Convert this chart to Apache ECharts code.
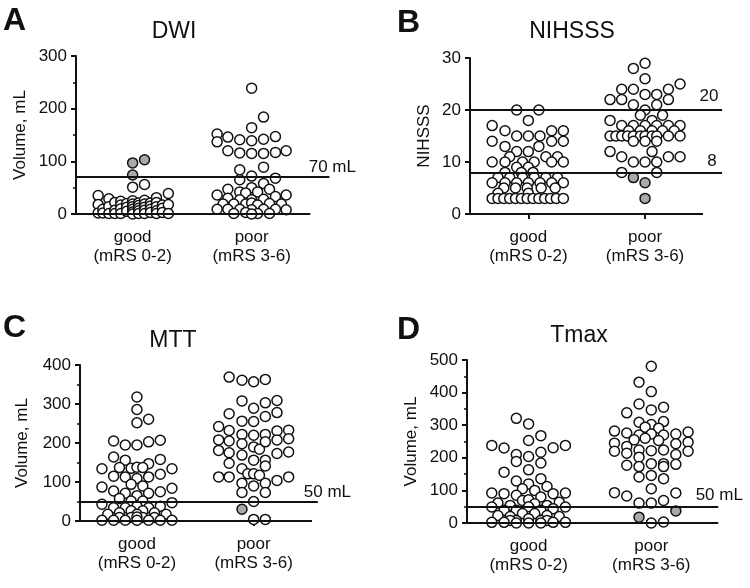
<!DOCTYPE html>
<html><head><meta charset="utf-8">
<script src="https://cdn.jsdelivr.net/npm/echarts@6/dist/echarts.min.js"></script>
<style>html,body{margin:0;padding:0;background:#fff}#c{width:750px;height:588px}</style>
</head><body><div id="c"></div>
<script>
// ---------- data ----------
const categoryLabels = ['good\n(mRS 0-2)', 'poor\n(mRS 3-6)'];
const panelTitles = ['DWI', 'NIHSSS', 'MTT', 'Tmax'];
const panelLetters = ['A', 'B', 'C', 'D'];
const yNames = ['Volume, mL', 'NIHSSS', 'Volume, mL', 'Volume, mL'];
const yMax = [300, 30, 400, 500];
const yStep = [100, 10, 100, 100];
const refValues = [[70], [20, 8], [50], [50]];
const refLabels = [['70 mL'], ['20', '8'], ['50 mL'], ['50 mL']];

// each point: [swarm jitter (fraction of group spacing), value]
const dwiGood = [
  [-0.29,35],[-0.29,18],[-0.29,2],[-0.25,9],[-0.25,2],
  [-0.2,29],[-0.2,14],[-0.2,1],[-0.15,22],[-0.15,7],[-0.15,1],
  [-0.1,24],[-0.1,17],[-0.1,10],[-0.1,1],[-0.05,20],[-0.05,13],[-0.05,5],
  [0,25],[0,19],[0,14],[0,9],[0,4],[0,0],[0,51],
  [0.05,21],[0.05,16],[0.05,11],[0.05,6],[0.05,1],
  [0.1,26],[0.1,19],[0.1,13],[0.1,7],[0.1,1],[0.1,56],
  [0.15,21],[0.15,15],[0.15,9],[0.15,3],
  [0.2,31],[0.2,22],[0.2,14],[0.2,6],[0.2,1],
  [0.25,17],[0.25,11],[0.25,3],[0.3,39],[0.3,18],[0.3,1]
];
const dwiGoodGray = [[0,97],[0.1,103],[0,74]];
const dwiPoor = [
  [0,239],[0.1,184],[0,164],
  [-0.29,152],[-0.29,137],[-0.2,146],[-0.1,141],[0,139],[0.1,142],[0.2,147],
  [-0.2,120],[-0.1,116],[0,115],[0.1,115],[0.2,117],[0.29,120],
  [0.1,89],[-0.1,84],[0,72],[-0.1,65],[0.2,68],
  [0.1,58],[0,50],[-0.2,47],[0.15,47],[-0.1,42],
  [-0.29,36],[-0.05,40],[0.05,42],[0.29,36],
  [-0.2,30],[-0.1,27],[0,27],[0.1,28],[0.2,33],
  [-0.24,19],[-0.15,19],[-0.05,19],[0,21],[0.05,17],[0.15,20],[0.25,19],
  [-0.29,9],[-0.2,9],[-0.1,9],[0,8],[0.1,9],[0.2,9],[0.29,8],
  [-0.15,1],[-0.05,3],[0.05,1],[0.15,1],[0,0]
];
const dwiPoorGray = [];

const nihGood = [
  [-0.1,20],[0.09,20],[0,18],[-0.31,17],
  [-0.2,16],[0.2,16],[0.3,16],[-0.1,15],[0,15],[0.1,15],
  [-0.31,14],[0.2,14],[0.3,14],[-0.2,13],[0.09,13],[-0.1,12],[0,12],
  [-0.16,11],[0.15,11],[0.25,11],
  [-0.31,10],[-0.2,10],[-0.05,10],[0.05,10],[0.2,10],[0.3,10],
  [-0.1,9],[0,9],[-0.2,8],[-0.06,8],[0.04,8],
  [-0.26,7],[-0.16,7],[-0.05,7],[0.05,7],[0.15,7],[0.25,7],
  [-0.31,6],[-0.2,6],[-0.1,6],[0,6],[0.1,6],[0.2,6],[0.3,6],
  [-0.21,5],[-0.11,5],[-0.01,5],[0.11,5],[0.23,5],[-0.26,4],[0,4],
  [-0.31,3],[-0.26,3],[-0.21,3],[-0.16,3],[-0.11,3],[-0.06,3],[-0.01,3],
  [0.04,3],[0.09,3],[0.14,3],[0.19,3],[0.24,3],[0.3,3]
];
const nihGoodGray = [];
const nihPoor = [
  [0,29],[-0.1,28],[0,26],[0.3,25],[-0.2,24],[-0.1,24],[0.2,24],
  [0,23],[0.1,23],[-0.3,22],[-0.2,22],[0.2,22],[-0.1,21],[0.1,21],
  [0,20],[-0.04,19],[0.15,19],[-0.3,18],[0.06,18],
  [-0.2,17],[-0.1,17],[0,17],[0.1,17],[0.2,17],[0.3,17],
  [-0.14,16],[-0.04,16],[0.06,16],[0.15,16],[0.25,16],
  [-0.3,15],[-0.25,15],[-0.2,15],[-0.15,15],[-0.1,15],[-0.04,15],[0,15],[0.06,15],[0.1,15],[0.2,15],[0.3,15],
  [-0.1,14],[0,14],[0.1,14],[-0.3,12],[0.06,12],
  [-0.2,11],[0.2,11],[0.3,11],[-0.1,10],[0,10],[0.1,10],[-0.2,8],[0.1,8]
];
const nihPoorGray = [[-0.1,7],[0,6],[0,3]];

const mttGood = [
  [0,318],[0,286],[0,252],[0.1,261],
  [-0.2,205],[-0.1,195],[0,195],[0.1,203],[0.2,207],
  [-0.2,164],[-0.1,156],[0.2,158],[0.1,147],
  [-0.3,134],[-0.15,137],[-0.05,135],[0,138],[0.05,137],[0.3,134],
  [-0.2,115],[-0.1,113],[0,109],[0.1,113],[0.2,120],
  [-0.05,94],[0.05,90],[-0.3,87],[0.3,84],
  [-0.2,77],[-0.1,71],[0,65],[0.1,71],[0.2,75],
  [-0.15,58],[-0.05,51],[0.05,51],[-0.3,43],[0.3,47],
  [-0.2,34],[-0.1,34],[0,38],[0.1,34],[0.2,38],
  [-0.25,17],[-0.15,21],[-0.05,26],[0.05,26],[0.15,21],[0.25,17],[0,17],
  [-0.15,9],[-0.05,9],[0.05,9],[0.15,9],[0,10],
  [-0.3,2],[-0.2,2],[-0.1,2],[0,2],[0.1,2],[0.2,2],[0.3,2]
];
const mttGoodGray = [];
const mttPoor = [
  [-0.21,369],[-0.1,361],[0,357],[0.1,363],
  [-0.1,308],[0.1,303],[0.2,309],
  [-0.21,275],[0,289],[0.1,268],[0.2,278],[-0.1,256],[0,255],
  [-0.3,242],[-0.21,232],[-0.1,222],[0,220],[0.1,222],[0.2,231],[0.3,233],
  [-0.3,208],[-0.21,205],[-0.1,198],[0,190],[0.05,184],[0.1,203],[0.2,208],[0.3,211],
  [-0.3,181],[-0.21,175],[-0.1,169],[0,156],[0.1,156],[0.2,173],[0.3,177],
  [-0.21,148],[0.1,141],
  [-0.3,113],[-0.21,113],[-0.1,134],[-0.05,121],[0,121],[0.05,117],[0.2,104],[0.3,113],
  [-0.1,97],[0,90],[0.1,97],[-0.1,73],[0.1,73],[0,50],[0,4],[0.1,4]
];
const mttPoorGray = [[-0.1,30]];

const tmaxGood = [
  [-0.1,321],[0,304],[0,253],[0.1,268],
  [-0.3,238],[-0.2,230],[-0.1,210],[0,204],[0.1,217],[0.2,231],[0.3,238],
  [-0.1,189],[0.1,184],[-0.2,156],[0,163],
  [-0.1,129],[0.1,136],[0.15,112],[0,120],[-0.05,105],[0.05,100],
  [-0.3,92],[-0.2,90],[-0.1,85],[0.1,80],[0.2,90],[0.3,92],
  [-0.25,61],[-0.15,54],[-0.05,69],[0,71],[0.05,59],[0.15,54],[0.25,64],
  [-0.3,49],[0.3,49],[0,50],
  [-0.2,39],[-0.1,39],[0.1,39],[0.2,44],[-0.05,29],[0.05,29],
  [-0.25,23],[-0.15,20],[0.15,23],[0.25,20],
  [0,13],[-0.1,8],[0.1,8],[-0.15,8],[0.15,8],
  [-0.3,2],[-0.2,2],[-0.1,0],[0,0],[0.1,0],[0.2,2],[0.3,2]
];
const tmaxGoodGray = [];
const tmaxPoor = [
  [0,481],[-0.1,432],[0,403],
  [-0.1,365],[-0.2,338],[0,347],[0.1,355],
  [-0.1,309],[0,302],[0.1,311],[-0.05,294],[0.06,291],
  [-0.3,282],[-0.2,276],[-0.1,270],[0,273],[0.1,270],[0.2,273],[0.3,279],
  [-0.14,255],[-0.05,260],[0.06,253],
  [-0.3,245],[-0.2,235],[0.2,243],[0.3,248],
  [-0.3,220],[-0.2,214],[-0.1,224],[0,222],[0.1,224],[0.2,210],[0.3,220],
  [-0.1,202],[-0.2,177],[-0.1,173],[0,182],[0.1,182],[0.1,173],[0.2,180],
  [-0.1,141],[0,146],[0.1,136],[0,105],
  [-0.3,93],[-0.2,83],[0.2,92],[0.1,69],[-0.1,61],[0,61],
  [0,0],[0.1,3]
];
const tmaxPoorGray = [[-0.1,18],[0.2,37]];

const groups = [
  [dwiGood, dwiPoor, dwiGoodGray, dwiPoorGray],
  [nihGood, nihPoor, nihGoodGray, nihPoorGray],
  [mttGood, mttPoor, mttGoodGray, mttPoorGray],
  [tmaxGood, tmaxPoor, tmaxGoodGray, tmaxPoorGray]
];

// ---------- layout ----------
const FONT = '"Liberation Sans", Arial, Helvetica, sans-serif';
const INK = '#111';
const X_MAX = 2.75;
const layout = [
  {left:76, top:56, height:158, spacing:119, xMin:0.524, axisEnd:2.493, refEnd:2.653, labelX:[2.678], labelDist:[1], nameGap:47, minor:true,
   title:{x:174, y:20}, letter:{x:3, y:5}},
  {left:470, top:58, height:156, spacing:116.7, xMin:0.5, axisEnd:2.497, refEnd:2.66, labelX:[2.548, 2.574], labelDist:[5, 3], nameGap:37, minor:false,
   title:{x:572, y:20}, letter:{x:397, y:7}},
  {left:80, top:365, height:156, spacing:116.7, xMin:0.512, axisEnd:2.5, refEnd:2.55, labelX:[2.632], labelDist:[1], nameGap:49, minor:true,
   title:{x:173, y:329}, letter:{x:3, y:312}},
  {left:467, top:360, height:163, spacing:122.7, xMin:0.498, axisEnd:2.546, refEnd:2.546, labelX:[2.554], labelDist:[3], nameGap:47, minor:true,
   title:{x:579, y:324}, letter:{x:397, y:314}}
];

const toPts = (arr, g) => arr.map(p => [g + p[0], p[1]]);

const option = {
  animation: false,
  backgroundColor: '#fff',
  textStyle: {fontFamily: FONT},
  title: [], grid: [], xAxis: [], yAxis: [], series: []
};

layout.forEach((L, i) => {
  option.title.push({text: panelTitles[i], left: L.title.x, top: L.title.y, textAlign: 'center', padding: 0,
    textStyle: {fontFamily: FONT, fontSize: 23, fontWeight: 'normal', color: INK}});
  option.title.push({text: panelLetters[i], left: L.letter.x, top: L.letter.y, padding: 0,
    textStyle: {fontFamily: FONT, fontSize: 32, fontWeight: 'bold', color: INK}});
  option.grid.push({left: L.left, top: L.top, height: L.height, width: (X_MAX - L.xMin) * L.spacing,
    containLabel: false, outerBoundsMode: 'none'});
  option.xAxis.push({
    type: 'value', gridIndex: i, min: L.xMin, max: X_MAX,
    axisLine: {show: false}, splitLine: {show: false},
    axisTick: {show: true, customValues: [1, 2], length: 5, lineStyle: {color: INK, width: 2}},
    axisLabel: {show: true, customValues: [1, 2], margin: 14, fontSize: 17, lineHeight: 19, color: INK, fontFamily: FONT,
      formatter: v => categoryLabels[Math.round(v) - 1]}
  });
  option.yAxis.push({
    type: 'value', gridIndex: i, min: 0, max: yMax[i], interval: yStep[i],
    name: yNames[i], nameLocation: 'middle', nameGap: L.nameGap, nameRotate: 90,
    nameTextStyle: {fontSize: 17, color: INK, fontFamily: FONT},
    axisLine: {show: true, lineStyle: {color: INK, width: 2}},
    axisTick: {show: true, length: 5, lineStyle: {color: INK, width: 2}},
    minorTick: {show: L.minor, splitNumber: 2, length: 3, lineStyle: {color: INK, width: 1.5}},
    axisLabel: {fontSize: 17, color: INK, margin: 9, fontFamily: FONT},
    splitLine: {show: false}
  });
  const g = groups[i];
  option.series.push({
    type: 'scatter', xAxisIndex: i, yAxisIndex: i, clip: false, z: 2,
    symbol: 'circle', symbolSize: 10,
    itemStyle: {color: '#fff', borderColor: INK, borderWidth: 1.5, opacity: 1},
    data: toPts(g[0], 1).concat(toPts(g[1], 2))
  });
  option.series.push({
    type: 'scatter', xAxisIndex: i, yAxisIndex: i, clip: false, z: 2,
    symbol: 'circle', symbolSize: 10,
    itemStyle: {color: '#a9a9a9', borderColor: INK, borderWidth: 1.5, opacity: 1},
    data: toPts(g[2], 1).concat(toPts(g[3], 2))
  });
  const lines = [[{coord: [L.xMin, 0]}, {coord: [L.axisEnd, 0]}]];
  refValues[i].forEach(r => lines.push([{coord: [L.xMin, r]}, {coord: [L.refEnd, r]}]));
  option.series.push({
    type: 'scatter', xAxisIndex: i, yAxisIndex: i, data: [], z: 3, silent: true,
    markLine: {silent: true, symbol: ['none', 'none'], animation: false,
      lineStyle: {color: INK, width: 2, type: 'solid'}, label: {show: false}, data: lines},
    markPoint: {silent: true, symbol: 'circle', symbolSize: 0, animation: false,
      data: refValues[i].map((r, k) => ({coord: [L.labelX[k], r],
        label: {show: true, position: 'top', distance: L.labelDist[k], formatter: refLabels[i][k],
          fontSize: 17, color: INK, fontFamily: FONT}}))}
  });
});

const chart = echarts.init(document.getElementById('c'), null, {renderer: 'canvas'});
chart.setOption(option);
</script></body></html>
